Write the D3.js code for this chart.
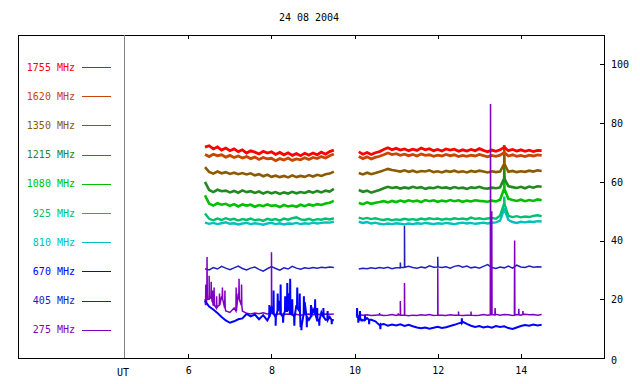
<!DOCTYPE html>
<html>
<head>
<meta charset="utf-8">
<script src="https://cdn.jsdelivr.net/npm/d3@7"></script>
<style>
  body { margin: 0; background: #fff; }
  text { font-family: "DejaVu Sans Mono", monospace; font-size: 10px; }
</style>
</head>
<body>
<div id="chart"></div>
<script>
// sampling grid of the two observing sessions (hours UT)
var times1 = d3.range(64, 96).map(function (d) { return d / 10; });   // 6.4 .. 9.5
var times2 = d3.range(101, 146).map(function (d) { return d / 10; }); // 10.1 .. 14.5

var labels = ["1755 MHz", "1620 MHz", "1350 MHz", "1215 MHz", "1080 MHz",
              "925 MHz", "810 MHz", "670 MHz", "405 MHz", "275 MHz"];
var colors = ["#ff0000", "#c84600", "#8c5a00", "#228822", "#00c000",
              "#00c070", "#00c0c0", "#0000ff", "#2020c0", "#8000c0"];

var xTicks = [6, 8, 10, 12, 14];
var yTicks = [0, 20, 40, 60, 80, 100];

// session 1 values
var f1755a = [71.8, 72.3, 71.2, 71.9, 70.8, 71.5, 70.6, 71.2,
              70.3, 70.9, 69.8, 70.6, 70.1, 69.5, 70.4, 69.8,
              70.2, 69.3, 70.0, 69.2, 69.9, 69.0, 69.6, 68.9,
              69.7, 69.1, 69.8, 69.2, 70.1, 69.4, 70.3, 70.8];
var f1620a = [69.3, 68.6, 69.4, 68.9, 69.2, 68.4, 69.0, 68.3,
              68.8, 68.1, 68.6, 67.9, 68.4, 67.6, 68.3, 67.8,
              68.0, 67.2, 67.9, 67.4, 68.1, 67.3, 67.8, 67.5,
              68.2, 67.6, 68.3, 67.9, 68.6, 68.1, 68.9, 69.5];
var f1350a = [65.0, 63.4, 62.8, 63.5, 62.9, 63.3, 62.7, 63.1,
              62.6, 63.0, 62.5, 62.9, 62.2, 62.6, 61.9, 62.4,
              61.7, 62.1, 61.6, 62.0, 61.5, 62.2, 61.6, 62.0,
              61.7, 62.3, 61.8, 62.4, 62.0, 62.6, 62.8, 63.5];
var f1215a = [60.0, 57.2, 56.5, 57.3, 56.8, 57.0, 56.4, 56.9,
              56.3, 57.1, 56.5, 56.8, 56.2, 56.7, 56.0, 56.6,
              56.1, 56.5, 55.9, 56.4, 56.0, 56.6, 56.1, 56.5,
              56.2, 56.8, 56.3, 56.9, 56.4, 57.0, 56.7, 57.6];
var f1080a = [55.4, 52.6, 51.9, 52.7, 52.2, 52.5, 51.8, 52.4,
              51.6, 52.3, 51.9, 52.2, 51.5, 52.1, 51.7, 52.3,
              51.8, 52.0, 51.4, 52.1, 51.6, 51.9, 51.5, 52.2,
              51.7, 52.3, 51.9, 52.4, 52.1, 52.6, 52.9, 53.5];
var f925a  = [49.2, 47.4, 46.9, 47.5, 47.0, 47.6, 47.1, 47.4,
              46.8, 47.3, 47.0, 47.5, 46.9, 47.2, 46.7, 47.4,
              47.0, 47.3, 46.8, 47.5, 47.1, 47.6, 47.9, 47.2,
              47.0, 47.4, 46.9, 47.3, 47.1, 47.5, 47.2, 47.6];
var f810a  = [46.1, 45.7, 46.0, 45.6, 45.9, 46.2, 45.7, 45.9,
              45.5, 45.8, 46.0, 45.6, 45.9, 45.7, 45.4, 45.8,
              46.0, 45.6, 45.9, 45.5, 45.8, 45.7, 46.0, 45.6,
              45.9, 45.7, 46.1, 45.8, 46.0, 46.2, 46.1, 46.4];
var f670a  = [19.5, 17.5, 16.5, 15.3, 14.0, 12.8, 12.0, 12.5,
              13.2, 13.5, 15.0, 14.2, 14.8, 13.2, 14.6, 12.8,
              17.5, 14.0, 19.5, 15.0, 22.0, 14.5, 18.0, 10.5,
              19.0, 13.0, 16.5, 12.5, 15.5, 13.0, 14.0, 12.8];
var f405a  = [30.4, 30.0, 30.8, 30.3, 31.2, 30.6, 30.1, 30.7,
              31.3, 30.5, 30.0, 30.6, 31.0, 30.2, 29.6, 30.4,
              31.1, 30.5, 29.9, 30.7, 30.3, 31.2, 30.6, 30.2,
              30.7, 30.5, 30.8, 30.6, 30.9, 30.7, 31.0, 30.8];
var f275a  = [20.0, 22.0, 18.0, 17.5, 21.0, 16.0, 15.5, 17.0,
              22.0, 16.0, 15.2, 15.0, 15.3, 15.1, 15.4, 15.0,
              15.2, 14.8, 15.1, 14.9, 15.0, 14.7, 14.9, 14.6,
              14.8, 15.0, 14.7, 14.9, 14.8, 15.0, 14.9, 15.0];

// session 2 values
var f1755b = [70.2, 69.4, 70.0, 69.3, 69.9, 70.3, 71.0, 71.6, 70.9,
              71.4, 70.8, 71.2, 70.6, 71.1, 70.7, 71.5, 70.9, 71.3,
              70.6, 71.0, 70.5, 71.2, 70.8, 71.1, 70.4, 70.9, 70.5,
              71.0, 70.6, 71.3, 70.7, 70.2, 70.8, 70.4, 70.9, 71.8,
              70.6, 71.0, 70.5, 70.9, 70.4, 70.8, 70.3, 70.7, 70.6];
var f1620b = [68.6, 67.9, 68.5, 67.8, 68.3, 68.7, 69.2, 69.8, 69.3,
              69.6, 69.0, 69.4, 68.9, 69.3, 68.8, 69.5, 69.0, 69.2,
              68.7, 69.1, 68.8, 69.3, 68.9, 69.2, 68.6, 69.0, 68.7,
              69.1, 68.8, 69.3, 68.9, 68.5, 69.0, 68.7, 69.1, 70.0,
              68.8, 69.2, 68.7, 69.0, 68.6, 69.1, 68.8, 69.2, 69.0];
var f1350b = [63.0, 62.5, 63.1, 62.6, 63.0, 63.4, 63.9, 64.4, 64.0,
              63.8, 63.5, 63.9, 63.4, 63.8, 63.3, 63.7, 63.5, 63.9,
              63.3, 63.6, 63.2, 63.7, 63.4, 63.8, 63.3, 63.6, 63.2,
              63.7, 63.4, 63.8, 63.5, 63.2, 63.6, 63.3, 63.5, 66.0,
              63.4, 63.7, 63.3, 63.6, 63.4, 63.8, 63.5, 63.9, 63.7];
var f1215b = [57.2, 56.6, 57.0, 56.3, 56.8, 57.2, 57.8, 58.3, 57.9,
              58.2, 57.7, 58.1, 57.8, 58.3, 57.9, 58.2, 57.6, 58.0,
              57.8, 58.3, 57.9, 58.1, 57.7, 58.2, 57.8, 58.0, 57.6,
              58.1, 57.9, 58.3, 57.8, 57.7, 58.0, 57.8, 58.1, 61.0,
              58.5, 58.2, 57.9, 58.3, 57.8, 58.4, 58.0, 58.5, 58.3];
var f1080b = [52.8, 52.4, 53.0, 52.5, 52.9, 53.1, 53.4, 53.0, 53.5,
              53.1, 53.6, 53.2, 53.7, 53.3, 53.6, 53.1, 53.8, 53.4,
              53.7, 53.2, 53.6, 53.3, 53.8, 53.4, 53.7, 53.2, 53.6,
              53.3, 53.7, 53.5, 53.4, 53.2, 53.6, 53.3, 53.9, 57.5,
              54.2, 53.8, 53.5, 53.9, 53.4, 53.8, 53.5, 54.0, 53.7];
var f925b  = [47.8, 47.4, 47.7, 47.3, 47.6, 47.2, 47.0, 47.3, 46.9,
              47.2, 47.0, 47.4, 47.1, 47.3, 47.0, 47.5, 47.2, 47.6,
              47.3, 47.5, 47.1, 47.4, 47.2, 47.6, 47.3, 47.5, 47.2,
              47.8, 47.4, 47.6, 47.3, 47.5, 47.7, 47.4, 48.5, 52.5,
              48.4, 48.0, 48.3, 47.9, 48.2, 48.0, 48.4, 48.6, 48.3];
var f810b  = [46.4, 46.0, 46.3, 45.8, 46.1, 45.7, 45.5, 45.8, 45.6,
              45.9, 45.7, 45.5, 45.8, 45.6, 45.9, 45.7, 46.0, 45.8,
              45.6, 45.9, 45.7, 46.0, 45.8, 45.6, 45.9, 46.1, 45.8,
              46.0, 45.7, 45.9, 46.1, 45.8, 46.0, 46.2, 46.8, 50.5,
              47.0, 46.3, 46.0, 46.4, 46.2, 46.5, 46.3, 46.6, 46.5];
var f670b  = [14.5, 12.8, 13.6, 13.0, 12.5, 11.2, 11.6, 11.0, 11.4,
              11.1, 11.5, 10.9, 11.3, 10.8, 10.4, 10.1, 10.4, 10.0,
              10.3, 10.6, 10.2, 10.5, 10.9, 11.3, 11.8, 12.3, 11.6,
              11.0, 10.6, 10.9, 10.4, 10.7, 10.3, 10.9, 10.6, 10.8,
              10.2, 9.9, 10.4, 10.9, 11.2, 11.0, 11.4, 11.1, 11.3];
var f405b  = [30.3, 30.6, 30.4, 30.7, 30.5, 30.8, 30.6, 30.9, 30.4,
              30.7, 30.5, 30.9, 31.2, 30.8, 30.6, 31.0, 30.7, 31.4,
              30.9, 31.3, 30.8, 31.1, 30.6, 31.2, 31.5, 30.9, 31.3,
              30.7, 31.0, 30.6, 31.2, 31.8, 30.8, 30.5, 31.0, 30.7,
              31.3, 30.6, 31.6, 31.0, 30.8, 31.3, 30.9, 31.1, 31.0];
var f275b  = [14.8, 14.6, 14.7, 14.5, 14.6, 14.7, 14.5, 14.6, 14.8,
              14.5, 14.7, 14.6, 14.4, 14.6, 14.5, 14.7, 14.6, 14.8,
              14.5, 14.7, 14.6, 14.5, 14.7, 14.6, 14.8, 14.5, 14.6,
              14.7, 14.5, 14.6, 14.8, 14.6, 14.7, 14.9, 14.6, 14.8,
              14.7, 14.5, 14.8, 14.6, 14.9, 14.7, 14.8, 14.6, 14.8];

// narrow bursts: [time, level before/after, peak]
var burst670a = [[7.95, 14, 18], [8.05, 15, 23], [8.1, 14, 11], [8.15, 16, 22], [8.22, 15, 25],
                 [8.28, 14, 12], [8.33, 16, 21], [8.38, 16, 25.5], [8.45, 15, 27], [8.5, 15, 20],
                 [8.55, 14, 11], [8.62, 17, 24], [8.68, 16, 22], [8.72, 11, 9.5], [8.78, 15, 21],
                 [8.85, 14, 10.5], [8.95, 14, 18], [9.05, 15, 20], [9.1, 13, 17], [9.15, 13, 11],
                 [9.25, 14, 17], [9.35, 13, 16], [9.45, 13, 11.5]];
var burst275a = [[6.42, 18, 25], [6.45, 20, 34.4], [6.5, 20, 28], [6.55, 21, 26], [6.58, 19, 23],
                 [6.62, 18, 24], [6.68, 17, 21], [6.75, 18, 22], [6.82, 20, 24], [6.88, 17, 23],
                 [7.15, 16, 24], [7.22, 20, 27], [7.28, 18, 25], [8.0, 15.2, 36]];
var burst1350b = [[13.6, 66, 72.5]];
var burst1215b = [[13.6, 61, 66]];
var burst1080b = [[13.6, 57.5, 62]];
var burst925b = [[13.6, 52.5, 55]];
var burst810b = [[13.6, 50.5, 51]];
var burst670b = [[10.06, 14, 17], [10.09, 14, 12], [10.13, 13, 16], [10.17, 13, 12.5],
                 [10.25, 13, 14.5], [10.35, 13, 11.5], [10.62, 11.4, 9.8], [12.58, 12, 13.5]];
var burst405b = [[11.1, 30.8, 32.5], [11.2, 30.9, 45], [12.0, 31, 34.5]];
var burst275b = [[10.6, 14.7, 15.3], [11.05, 14.7, 15.2], [11.1, 14.6, 19.4], [11.2, 14.6, 25.5],
                 [12.0, 14.6, 30.6], [12.5, 14.6, 15.8], [12.8, 14.6, 15.8], [13.27, 14.7, 86.5],
                 [13.3, 14.7, 50], [13.38, 14.7, 17], [13.85, 14.6, 40], [13.95, 14.7, 16.8], [14.05, 14.8, 16]];

var series = [
  {a: f1755a, b: f1755b, sa: [], sb: []},
  {a: f1620a, b: f1620b, sa: [], sb: []},
  {a: f1350a, b: f1350b, sa: [], sb: burst1350b},
  {a: f1215a, b: f1215b, sa: [], sb: burst1215b},
  {a: f1080a, b: f1080b, sa: [], sb: burst1080b},
  {a: f925a,  b: f925b,  sa: [], sb: burst925b},
  {a: f810a,  b: f810b,  sa: [], sb: burst810b},
  {a: f670a,  b: f670b,  sa: burst670a, sb: burst670b},
  {a: f405a,  b: f405b,  sa: [], sb: burst405b},
  {a: f275a,  b: f275b,  sa: burst275a, sb: burst275b}
];
series.forEach(function (s, i) { s.label = labels[i]; s.color = colors[i]; });

var w = 640, h = 384;
var pLeft = 18, pRight = 604, pTop = 35, pBottom = 358;

var svg = d3.select("#chart").append("svg")
    .attr("width", w)
    .attr("height", h);

var x = d3.scaleLinear().domain([4.5, 16]).range([126, pRight]);
var y = d3.scaleLinear().domain([0, 110]).range([pBottom, pTop]);

// title
svg.append("text")
    .attr("x", 309)
    .attr("y", 21)
    .style("text-anchor", "middle")
    .text("24 08 2004");

// frame
svg.append("rect")
    .attr("x", pLeft + 0.5)
    .attr("y", pTop + 0.5)
    .attr("width", pRight - pLeft)
    .attr("height", pBottom - pTop)
    .attr("fill", "none")
    .attr("stroke", "black")
    .attr("shape-rendering", "crispEdges");

svg.append("line")
    .attr("x1", 124.5).attr("x2", 124.5)
    .attr("y1", pTop).attr("y2", pBottom)
    .attr("stroke", "#808080")
    .attr("shape-rendering", "crispEdges");

// axes
var xBottom = svg.append("g")
    .attr("transform", "translate(0," + pBottom + ")")
    .call(d3.axisBottom(x).tickValues(xTicks).tickSize(-4).tickPadding(9).tickFormat(d3.format("d")));
var xTop = svg.append("g")
    .attr("transform", "translate(0," + pTop + ")")
    .call(d3.axisTop(x).tickValues(xTicks).tickSize(-4).tickFormat(""));
var yRight = svg.append("g")
    .attr("transform", "translate(" + pRight + ",0)")
    .call(d3.axisRight(y).tickValues(yTicks).tickSize(-4).tickPadding(7));

[xBottom, xTop, yRight].forEach(function (g) {
  g.select(".domain").remove();
  g.selectAll("line").attr("stroke", "black").attr("shape-rendering", "crispEdges");
  g.selectAll("text").attr("fill", "black")
      .style("font-family", "DejaVu Sans Mono")
      .style("font-size", "10px");
});
yRight.selectAll(".tick").filter(function (d) { return d === 0; }).select("line").remove();
yRight.selectAll(".tick").filter(function (d) { return d === 0; }).select("text").attr("dy", "0.55em");

svg.append("text")
    .attr("x", 123)
    .attr("y", 376)
    .style("text-anchor", "middle")
    .text("UT");

// legend
var legend = svg.append("g");
series.forEach(function (s, i) {
  var ly = 67 + i * 29.2;
  legend.append("text")
      .attr("x", 75)
      .attr("y", ly + 3.5)
      .attr("fill", s.color)
      .style("text-anchor", "end")
      .text(s.label);
  legend.append("line")
      .attr("x1", 82).attr("x2", 111)
      .attr("y1", Math.round(ly) + 0.5).attr("y2", Math.round(ly) + 0.5)
      .attr("stroke", s.color)
      .attr("shape-rendering", "crispEdges");
});

// traces
var line = d3.line()
    .x(function (d) { return x(d[0]); })
    .y(function (d) { return y(d[1]); });

function points(times, vals, bursts) {
  var p = times.map(function (t, i) { return [t, vals[i]]; });
  bursts.forEach(function (b) {
    p.push([b[0] - 0.006, b[1]], [b[0], b[2]], [b[0] + 0.006, b[1]]);
  });
  return p.sort(function (m, n) { return m[0] - n[0]; });
}

var order = [6, 5, 4, 3, 2, 1, 0, 8, 9, 7];
var widths = [2.8, 2.8, 2.6, 2.6, 2.6, 2.4, 2.4, 2, 1.5, 1.5];
order.forEach(function (i) {
  var s = series[i];
  [[times1, s.a, s.sa], [times2, s.b, s.sb]].forEach(function (seg) {
    svg.append("path")
        .attr("d", line(points(seg[0], seg[1], seg[2])))
        .attr("fill", "none")
        .attr("stroke", s.color)
        .attr("stroke-width", widths[i])
        .attr("stroke-linejoin", "miter");
  });
});
</script>
</body>
</html>
